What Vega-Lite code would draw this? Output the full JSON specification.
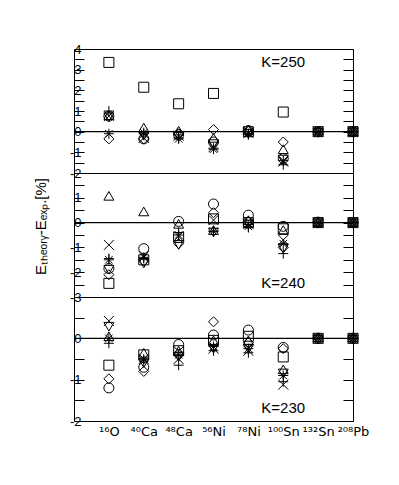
{
"$schema":"https://vega.github.io/schema/vega-lite/v6.json",
"padding":{"left":32,"top":42,"right":5,"bottom":5},
"bounds":"flush",
"config":{"view":{"stroke":"black","strokeWidth":1},"font":"Liberation Sans","axis":{"labelFont":"Liberation Sans","titleFont":"Liberation Sans","labelColor":"black","tickColor":"black","titleColor":"black","titleFontWeight":"normal"}},
"data":{"values":[
{"K":250,"n":"¹⁶O","m":"sq","v":3.35},{"K":250,"n":"¹⁶O","m":"ci","v":0.75},{"K":250,"n":"¹⁶O","m":"di","v":-0.35},{"K":250,"n":"¹⁶O","m":"tu","v":0.8},{"K":250,"n":"¹⁶O","m":"td","v":0.7},{"K":250,"n":"¹⁶O","m":"pl","v":1.0},{"K":250,"n":"¹⁶O","m":"cr","v":0.75},{"K":250,"n":"¹⁶O","m":"as","v":-0.1},
{"K":250,"n":"⁴⁰Ca","m":"sq","v":2.15},{"K":250,"n":"⁴⁰Ca","m":"ci","v":-0.35},{"K":250,"n":"⁴⁰Ca","m":"di","v":-0.35},{"K":250,"n":"⁴⁰Ca","m":"tu","v":0.2},{"K":250,"n":"⁴⁰Ca","m":"td","v":-0.2},{"K":250,"n":"⁴⁰Ca","m":"pl","v":-0.1},{"K":250,"n":"⁴⁰Ca","m":"cr","v":-0.3},{"K":250,"n":"⁴⁰Ca","m":"as","v":-0.05},
{"K":250,"n":"⁴⁸Ca","m":"sq","v":1.35},{"K":250,"n":"⁴⁸Ca","m":"ci","v":-0.15},{"K":250,"n":"⁴⁸Ca","m":"di","v":-0.1},{"K":250,"n":"⁴⁸Ca","m":"tu","v":0.05},{"K":250,"n":"⁴⁸Ca","m":"td","v":-0.25},{"K":250,"n":"⁴⁸Ca","m":"pl","v":-0.3},{"K":250,"n":"⁴⁸Ca","m":"cr","v":-0.2},{"K":250,"n":"⁴⁸Ca","m":"as","v":-0.35},
{"K":250,"n":"⁵⁶Ni","m":"sq","v":1.85},{"K":250,"n":"⁵⁶Ni","m":"ci","v":-0.5},{"K":250,"n":"⁵⁶Ni","m":"di","v":0.1},{"K":250,"n":"⁵⁶Ni","m":"tu","v":-0.3},{"K":250,"n":"⁵⁶Ni","m":"td","v":-0.6},{"K":250,"n":"⁵⁶Ni","m":"pl","v":-0.8},{"K":250,"n":"⁵⁶Ni","m":"cr","v":-0.75},{"K":250,"n":"⁵⁶Ni","m":"as","v":-0.85},
{"K":250,"n":"⁷⁸Ni","m":"sq","v":0.0},{"K":250,"n":"⁷⁸Ni","m":"ci","v":0.05},{"K":250,"n":"⁷⁸Ni","m":"di","v":0.05},{"K":250,"n":"⁷⁸Ni","m":"tu","v":0.1},{"K":250,"n":"⁷⁸Ni","m":"td","v":-0.1},{"K":250,"n":"⁷⁸Ni","m":"pl","v":-0.15},{"K":250,"n":"⁷⁸Ni","m":"cr","v":-0.05},{"K":250,"n":"⁷⁸Ni","m":"as","v":-0.1},
{"K":250,"n":"¹⁰⁰Sn","m":"sq","v":0.95},{"K":250,"n":"¹⁰⁰Sn","m":"ci","v":-1.3},{"K":250,"n":"¹⁰⁰Sn","m":"di","v":-0.5},{"K":250,"n":"¹⁰⁰Sn","m":"tu","v":-0.85},{"K":250,"n":"¹⁰⁰Sn","m":"td","v":-1.35},{"K":250,"n":"¹⁰⁰Sn","m":"pl","v":-1.6},{"K":250,"n":"¹⁰⁰Sn","m":"cr","v":-1.45},{"K":250,"n":"¹⁰⁰Sn","m":"as","v":-1.4},
{"K":250,"n":"¹³²Sn","m":"sq","v":0.0},{"K":250,"n":"¹³²Sn","m":"ci","v":0.0},{"K":250,"n":"¹³²Sn","m":"di","v":0.02},{"K":250,"n":"¹³²Sn","m":"tu","v":0.05},{"K":250,"n":"¹³²Sn","m":"td","v":-0.05},{"K":250,"n":"¹³²Sn","m":"pl","v":-0.02},{"K":250,"n":"¹³²Sn","m":"cr","v":0.0},{"K":250,"n":"¹³²Sn","m":"as","v":-0.03},
{"K":250,"n":"²⁰⁸Pb","m":"sq","v":0.0},{"K":250,"n":"²⁰⁸Pb","m":"ci","v":0.0},{"K":250,"n":"²⁰⁸Pb","m":"di","v":0.0},{"K":250,"n":"²⁰⁸Pb","m":"tu","v":0.03},{"K":250,"n":"²⁰⁸Pb","m":"td","v":-0.03},{"K":250,"n":"²⁰⁸Pb","m":"pl","v":0.0},{"K":250,"n":"²⁰⁸Pb","m":"cr","v":0.0},{"K":250,"n":"²⁰⁸Pb","m":"as","v":0.0},
{"K":240,"n":"¹⁶O","m":"sq","v":-2.45},{"K":240,"n":"¹⁶O","m":"ci","v":-1.85},{"K":240,"n":"¹⁶O","m":"di","v":-2.1},{"K":240,"n":"¹⁶O","m":"tu","v":1.08},{"K":240,"n":"¹⁶O","m":"td","v":-1.9},{"K":240,"n":"¹⁶O","m":"pl","v":-1.45},{"K":240,"n":"¹⁶O","m":"cr","v":-0.9},{"K":240,"n":"¹⁶O","m":"as","v":-1.5},
{"K":240,"n":"⁴⁰Ca","m":"sq","v":-1.5},{"K":240,"n":"⁴⁰Ca","m":"ci","v":-1.05},{"K":240,"n":"⁴⁰Ca","m":"di","v":-1.55},{"K":240,"n":"⁴⁰Ca","m":"tu","v":0.45},{"K":240,"n":"⁴⁰Ca","m":"td","v":-1.65},{"K":240,"n":"⁴⁰Ca","m":"pl","v":-1.45},{"K":240,"n":"⁴⁰Ca","m":"cr","v":-1.35},{"K":240,"n":"⁴⁰Ca","m":"as","v":-1.4},
{"K":240,"n":"⁴⁸Ca","m":"sq","v":-0.6},{"K":240,"n":"⁴⁸Ca","m":"ci","v":0.05},{"K":240,"n":"⁴⁸Ca","m":"di","v":-0.85},{"K":240,"n":"⁴⁸Ca","m":"tu","v":-0.05},{"K":240,"n":"⁴⁸Ca","m":"td","v":-0.9},{"K":240,"n":"⁴⁸Ca","m":"pl","v":-0.4},{"K":240,"n":"⁴⁸Ca","m":"cr","v":-0.55},{"K":240,"n":"⁴⁸Ca","m":"as","v":-0.5},
{"K":240,"n":"⁵⁶Ni","m":"sq","v":0.15},{"K":240,"n":"⁵⁶Ni","m":"ci","v":0.75},{"K":240,"n":"⁵⁶Ni","m":"di","v":0.4},{"K":240,"n":"⁵⁶Ni","m":"tu","v":-0.3},{"K":240,"n":"⁵⁶Ni","m":"td","v":-0.4},{"K":240,"n":"⁵⁶Ni","m":"pl","v":-0.35},{"K":240,"n":"⁵⁶Ni","m":"cr","v":0.1},{"K":240,"n":"⁵⁶Ni","m":"as","v":-0.35},
{"K":240,"n":"⁷⁸Ni","m":"sq","v":0.0},{"K":240,"n":"⁷⁸Ni","m":"ci","v":0.3},{"K":240,"n":"⁷⁸Ni","m":"di","v":0.05},{"K":240,"n":"⁷⁸Ni","m":"tu","v":0.1},{"K":240,"n":"⁷⁸Ni","m":"td","v":-0.1},{"K":240,"n":"⁷⁸Ni","m":"pl","v":-0.2},{"K":240,"n":"⁷⁸Ni","m":"cr","v":-0.05},{"K":240,"n":"⁷⁸Ni","m":"as","v":-0.15},
{"K":240,"n":"¹⁰⁰Sn","m":"sq","v":-0.25},{"K":240,"n":"¹⁰⁰Sn","m":"ci","v":-0.15},{"K":240,"n":"¹⁰⁰Sn","m":"di","v":-1.0},{"K":240,"n":"¹⁰⁰Sn","m":"tu","v":-0.3},{"K":240,"n":"¹⁰⁰Sn","m":"td","v":-1.05},{"K":240,"n":"¹⁰⁰Sn","m":"pl","v":-1.25},{"K":240,"n":"¹⁰⁰Sn","m":"cr","v":-0.7},{"K":240,"n":"¹⁰⁰Sn","m":"as","v":-0.85},
{"K":240,"n":"¹³²Sn","m":"sq","v":0.0},{"K":240,"n":"¹³²Sn","m":"ci","v":0.02},{"K":240,"n":"¹³²Sn","m":"di","v":0.0},{"K":240,"n":"¹³²Sn","m":"tu","v":0.03},{"K":240,"n":"¹³²Sn","m":"td","v":-0.03},{"K":240,"n":"¹³²Sn","m":"pl","v":0.0},{"K":240,"n":"¹³²Sn","m":"cr","v":0.0},{"K":240,"n":"¹³²Sn","m":"as","v":-0.02},
{"K":240,"n":"²⁰⁸Pb","m":"sq","v":0.0},{"K":240,"n":"²⁰⁸Pb","m":"ci","v":0.0},{"K":240,"n":"²⁰⁸Pb","m":"di","v":0.0},{"K":240,"n":"²⁰⁸Pb","m":"tu","v":0.03},{"K":240,"n":"²⁰⁸Pb","m":"td","v":-0.03},{"K":240,"n":"²⁰⁸Pb","m":"pl","v":0.0},{"K":240,"n":"²⁰⁸Pb","m":"cr","v":0.0},{"K":240,"n":"²⁰⁸Pb","m":"as","v":0.0},
{"K":230,"n":"¹⁶O","m":"sq","v":-0.65},{"K":230,"n":"¹⁶O","m":"ci","v":-1.2},{"K":230,"n":"¹⁶O","m":"di","v":-0.98},{"K":230,"n":"¹⁶O","m":"tu","v":0.05},{"K":230,"n":"¹⁶O","m":"td","v":0.28},{"K":230,"n":"¹⁶O","m":"pl","v":-0.12},{"K":230,"n":"¹⁶O","m":"cr","v":0.42},{"K":230,"n":"¹⁶O","m":"as","v":0.0},
{"K":230,"n":"⁴⁰Ca","m":"sq","v":-0.4},{"K":230,"n":"⁴⁰Ca","m":"ci","v":-0.7},{"K":230,"n":"⁴⁰Ca","m":"di","v":-0.8},{"K":230,"n":"⁴⁰Ca","m":"tu","v":-0.35},{"K":230,"n":"⁴⁰Ca","m":"td","v":-0.6},{"K":230,"n":"⁴⁰Ca","m":"pl","v":-0.55},{"K":230,"n":"⁴⁰Ca","m":"cr","v":-0.5},{"K":230,"n":"⁴⁰Ca","m":"as","v":-0.5},
{"K":230,"n":"⁴⁸Ca","m":"sq","v":-0.3},{"K":230,"n":"⁴⁸Ca","m":"ci","v":-0.15},{"K":230,"n":"⁴⁸Ca","m":"di","v":-0.4},{"K":230,"n":"⁴⁸Ca","m":"tu","v":-0.3},{"K":230,"n":"⁴⁸Ca","m":"td","v":-0.45},{"K":230,"n":"⁴⁸Ca","m":"pl","v":-0.65},{"K":230,"n":"⁴⁸Ca","m":"cr","v":-0.5},{"K":230,"n":"⁴⁸Ca","m":"as","v":-0.4},
{"K":230,"n":"⁵⁶Ni","m":"sq","v":-0.05},{"K":230,"n":"⁵⁶Ni","m":"ci","v":0.08},{"K":230,"n":"⁵⁶Ni","m":"di","v":0.4},{"K":230,"n":"⁵⁶Ni","m":"tu","v":-0.05},{"K":230,"n":"⁵⁶Ni","m":"td","v":-0.25},{"K":230,"n":"⁵⁶Ni","m":"pl","v":-0.3},{"K":230,"n":"⁵⁶Ni","m":"cr","v":-0.25},{"K":230,"n":"⁵⁶Ni","m":"as","v":-0.2},
{"K":230,"n":"⁷⁸Ni","m":"sq","v":0.05},{"K":230,"n":"⁷⁸Ni","m":"ci","v":0.2},{"K":230,"n":"⁷⁸Ni","m":"di","v":-0.1},{"K":230,"n":"⁷⁸Ni","m":"tu","v":-0.05},{"K":230,"n":"⁷⁸Ni","m":"td","v":-0.25},{"K":230,"n":"⁷⁸Ni","m":"pl","v":-0.35},{"K":230,"n":"⁷⁸Ni","m":"cr","v":-0.3},{"K":230,"n":"⁷⁸Ni","m":"as","v":-0.25},
{"K":230,"n":"¹⁰⁰Sn","m":"sq","v":-0.45},{"K":230,"n":"¹⁰⁰Sn","m":"ci","v":-0.22},{"K":230,"n":"¹⁰⁰Sn","m":"di","v":-0.25},{"K":230,"n":"¹⁰⁰Sn","m":"tu","v":-0.75},{"K":230,"n":"¹⁰⁰Sn","m":"td","v":-0.85},{"K":230,"n":"¹⁰⁰Sn","m":"pl","v":-1.05},{"K":230,"n":"¹⁰⁰Sn","m":"cr","v":-1.12},{"K":230,"n":"¹⁰⁰Sn","m":"as","v":-0.9},
{"K":230,"n":"¹³²Sn","m":"sq","v":0.0},{"K":230,"n":"¹³²Sn","m":"ci","v":0.0},{"K":230,"n":"¹³²Sn","m":"di","v":0.0},{"K":230,"n":"¹³²Sn","m":"tu","v":0.03},{"K":230,"n":"¹³²Sn","m":"td","v":-0.03},{"K":230,"n":"¹³²Sn","m":"pl","v":0.0},{"K":230,"n":"¹³²Sn","m":"cr","v":0.0},{"K":230,"n":"¹³²Sn","m":"as","v":0.0},
{"K":230,"n":"²⁰⁸Pb","m":"sq","v":0.0},{"K":230,"n":"²⁰⁸Pb","m":"ci","v":0.0},{"K":230,"n":"²⁰⁸Pb","m":"di","v":0.0},{"K":230,"n":"²⁰⁸Pb","m":"tu","v":0.03},{"K":230,"n":"²⁰⁸Pb","m":"td","v":-0.03},{"K":230,"n":"²⁰⁸Pb","m":"pl","v":0.0},{"K":230,"n":"²⁰⁸Pb","m":"cr","v":0.0},{"K":230,"n":"²⁰⁸Pb","m":"as","v":0.0}
]},
"spacing":0,
"vconcat":[
{"width":279,"height":124,
 "layer":[
  {"data":{"values":[{}]},"mark":{"type":"rule","color":"black","strokeWidth":1.3},
   "encoding":{"y":{"datum":0,"type":"quantitative","scale":{"domain":[-2,4],"nice":false,"zero":false},
    "axis":{"orient":"left","title":null,"values":[-2,-1.5,-1,-0.5,0,0.5,1,1.5,2,2.5,3,3.5,4],"labelExpr":"datum.value % 1 === 0 ? '' + datum.value : ''","domain":false,"tickSize":-10,"labelPadding":3,"labelFontSize":13,"grid":false}}}},
  {"transform":[{"filter":"datum.K == 250"}],
   "mark":{"type":"point","filled":false,"color":"black","strokeWidth":1,"size":100,"opacity":1},
   "encoding":{
    "x":{"field":"n","type":"nominal","scale":{"type":"point","padding":0.5,"align":1,"domain":["¹⁶O","⁴⁰Ca","⁴⁸Ca","⁵⁶Ni","⁷⁸Ni","¹⁰⁰Sn","¹³²Sn","²⁰⁸Pb"]},"axis":null},
    "y":{"field":"v","type":"quantitative","axis":{"orient":"right","title":null,"labels":false,"values":[-2,-1.5,-1,-0.5,0,0.5,1,1.5,2,2.5,3,3.5,4],"domain":false,"tickSize":-10,"grid":false}},
    "shape":{"field":"m","type":"nominal","legend":null,"scale":{"domain":["sq","ci","di","tu","td","pl","cr","as"],"range":["square","circle","diamond","triangle-up","triangle-down","M-1,0H1M0,-1V1","M-1,-1L1,1M1,-1L-1,1","M-1,0H1M0,-1V1M-0.75,-0.75L0.75,0.75M0.75,-0.75L-0.75,0.75"]}}}},
  {"data":{"values":[{}]},"mark":{"type":"text","fontSize":15,"font":"Liberation Sans","color":"black"},
   "encoding":{"x":{"datum":"¹⁰⁰Sn","type":"nominal","axis":null},"y":{"datum":3.35,"type":"quantitative","axis":null},"text":{"value":"K=250"}}}
 ],
 "resolve":{"axis":{"y":"independent"}}},
{"width":279,"height":124,
 "layer":[
  {"data":{"values":[{}]},"mark":{"type":"rule","color":"black","strokeWidth":1.3},
   "encoding":{"y":{"datum":0,"type":"quantitative","scale":{"domain":[-3,2],"nice":false,"zero":false},
    "axis":{"orient":"left","title":"Eₜₕₑₒᵣᵧ-Eₑₓₚ.[%]","titleFontSize":15,"titlePadding":21,"titleY":53,"values":[-3,-2.5,-2,-1.5,-1,-0.5,0,0.5,1,1.5,2],"labelExpr":"datum.value % 1 === 0 && datum.value < 2 ? '' + datum.value : ''","domain":false,"tickSize":-10,"labelPadding":3,"labelFontSize":13,"grid":false}}}},
  {"transform":[{"filter":"datum.K == 240"}],
   "mark":{"type":"point","filled":false,"color":"black","strokeWidth":1,"size":100,"opacity":1},
   "encoding":{
    "x":{"field":"n","type":"nominal","scale":{"type":"point","padding":0.5,"align":1,"domain":["¹⁶O","⁴⁰Ca","⁴⁸Ca","⁵⁶Ni","⁷⁸Ni","¹⁰⁰Sn","¹³²Sn","²⁰⁸Pb"]},"axis":null},
    "y":{"field":"v","type":"quantitative","axis":{"orient":"right","title":null,"labels":false,"values":[-3,-2.5,-2,-1.5,-1,-0.5,0,0.5,1,1.5,2],"domain":false,"tickSize":-10,"grid":false}},
    "shape":{"field":"m","type":"nominal","legend":null,"scale":{"domain":["sq","ci","di","tu","td","pl","cr","as"],"range":["square","circle","diamond","triangle-up","triangle-down","M-1,0H1M0,-1V1","M-1,-1L1,1M1,-1L-1,1","M-1,0H1M0,-1V1M-0.75,-0.75L0.75,0.75M0.75,-0.75L-0.75,0.75"]}}}},
  {"data":{"values":[{}]},"mark":{"type":"text","fontSize":15,"font":"Liberation Sans","color":"black"},
   "encoding":{"x":{"datum":"¹⁰⁰Sn","type":"nominal","axis":null},"y":{"datum":-2.45,"type":"quantitative","axis":null},"text":{"value":"K=240"}}}
 ],
 "resolve":{"axis":{"y":"independent"}}},
{"width":279,"height":124,
 "layer":[
  {"data":{"values":[{}]},"mark":{"type":"rule","color":"black","strokeWidth":1.3},
   "encoding":{"y":{"datum":0,"type":"quantitative","scale":{"domain":[-2,1],"nice":false,"zero":false},
    "axis":{"orient":"left","title":null,"values":[-2,-1.5,-1,-0.5,0,0.5,1],"labelExpr":"datum.value % 1 === 0 && datum.value < 1 ? '' + datum.value : ''","domain":false,"tickSize":-10,"labelPadding":3,"labelFontSize":13,"grid":false}}}},
  {"transform":[{"filter":"datum.K == 230"}],
   "mark":{"type":"point","filled":false,"color":"black","strokeWidth":1,"size":100,"opacity":1},
   "encoding":{
    "x":{"field":"n","type":"nominal","scale":{"type":"point","padding":0.5,"align":1,"domain":["¹⁶O","⁴⁰Ca","⁴⁸Ca","⁵⁶Ni","⁷⁸Ni","¹⁰⁰Sn","¹³²Sn","²⁰⁸Pb"]},
     "axis":{"orient":"bottom","title":null,"ticks":false,"domain":false,"labelFont":"DejaVu Sans","labelFontSize":13,"labelPadding":4,"labelAngle":0}},
    "y":{"field":"v","type":"quantitative","axis":{"orient":"right","title":null,"labels":false,"values":[-2,-1.5,-1,-0.5,0,0.5,1],"domain":false,"tickSize":-10,"grid":false}},
    "shape":{"field":"m","type":"nominal","legend":null,"scale":{"domain":["sq","ci","di","tu","td","pl","cr","as"],"range":["square","circle","diamond","triangle-up","triangle-down","M-1,0H1M0,-1V1","M-1,-1L1,1M1,-1L-1,1","M-1,0H1M0,-1V1M-0.75,-0.75L0.75,0.75M0.75,-0.75L-0.75,0.75"]}}}},
  {"data":{"values":[{}]},"mark":{"type":"text","fontSize":15,"font":"Liberation Sans","color":"black"},
   "encoding":{"x":{"datum":"¹⁰⁰Sn","type":"nominal","axis":{"orient":"bottom","title":null,"ticks":false,"domain":false,"labelFont":"DejaVu Sans","labelFontSize":13,"labelPadding":4,"labelAngle":0}},"y":{"datum":-1.68,"type":"quantitative","axis":null},"text":{"value":"K=230"}}}
 ],
 "resolve":{"axis":{"y":"independent"}}}
]
}
